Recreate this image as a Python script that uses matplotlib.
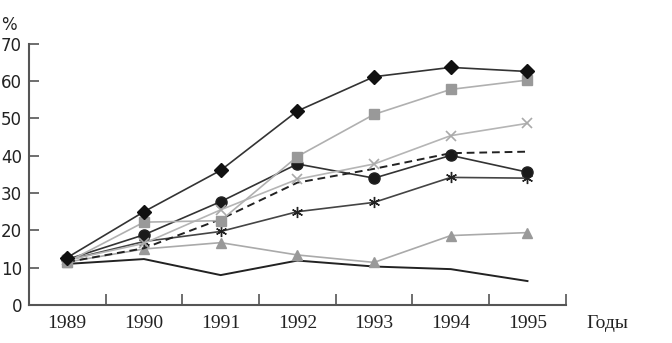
import matplotlib
matplotlib.use("Agg")
import matplotlib.pyplot as plt
import numpy as np

years = ["1989", "1990", "1991", "1992", "1993", "1994", "1995"]

diamonds = [12.7, 25.0, 36.1, 52.0, 61.2, 63.7, 62.6]
squares = [11.5, 22.2, 22.6, 39.8, 51.1, 57.8, 60.3]
crosses = [12.0, 16.5, 25.5, 33.7, 37.8, 45.4, 48.7]
dashed = [11.5, 15.2, 23.0, 32.8, 36.5, 40.7, 41.1]
circles = [12.2, 18.8, 27.7, 37.8, 34.0, 40.1, 35.6]
stars = [12.0, 17.0, 19.7, 25.0, 27.5, 34.2, 34.0]
triangles = [11.5, 15.0, 16.7, 13.4, 11.4, 18.6, 19.4]
bottom = [11.0, 12.3, 8.0, 11.9, 10.3, 9.6, 6.4]

x = np.arange(len(years))

fig = plt.figure(figsize=(6.72, 3.43), dpi=100)
ax = fig.add_axes([0.043, 0.111, 0.799, 0.761])

ax.plot(x, bottom, color="#222222", lw=1.4)
ax.plot(x, triangles, color="#aaaaaa", lw=1.2, marker="^", ms=7,
        mfc="#999999", mec="#999999")
ax.plot(x, stars, color="#444444", lw=1.2, marker=(6, 2, 0), ms=8,
        mec="#222222", mew=1.0)
ax.plot(x, circles, color="#333333", lw=1.2, marker="o", ms=8,
        mfc="#1a1a1a", mec="#222222")
ax.plot(x, dashed, color="#222222", lw=1.4, ls=(0, (4, 2.5)))
ax.plot(x, crosses, color="#b5b5b5", lw=1.2, marker="x", ms=7,
        mec="#aaaaaa", mew=1.2)
ax.plot(x, squares, color="#b0b0b0", lw=1.2, marker="s", ms=7,
        mfc="#999999", mec="#999999")
ax.plot(x, diamonds, color="#333333", lw=1.2, marker="D", ms=7,
        mfc="#111111", mec="#111111")

ax.set_xlim(-0.5, 6.5)
ax.set_ylim(0, 70)

for s in ["top", "right"]:
    ax.spines[s].set_visible(False)
for s in ["left", "bottom"]:
    ax.spines[s].set_color("#555555")
    ax.spines[s].set_linewidth(1.5)

ax.set_yticks(range(0, 71, 10))
ax.tick_params(axis="y", direction="in", length=7, width=1.2, color="#555555",
               labelsize=12, pad=5, labelcolor="#222222")
for lab in ax.get_yticklabels():
    lab.set_family("DejaVu Sans")

ax.set_xticks(x)
ax.set_xticklabels(years, family="Liberation Serif", fontsize=14, color="#222222")
ax.tick_params(axis="x", which="major", length=0, pad=7)
ax.set_xticks(np.arange(0.5, 7, 1), minor=True)
ax.tick_params(axis="x", which="minor", direction="in", length=8, width=1.2,
               color="#555555")

fig.text(0.002, 0.928, "%", fontsize=12, family="DejaVu Sans", color="#222222",
         va="center")
fig.text(0.873, 0.058, "Годы", fontsize=14, family="Liberation Serif",
         color="#222222", va="center")

fig.savefig("out.png", dpi=100)
